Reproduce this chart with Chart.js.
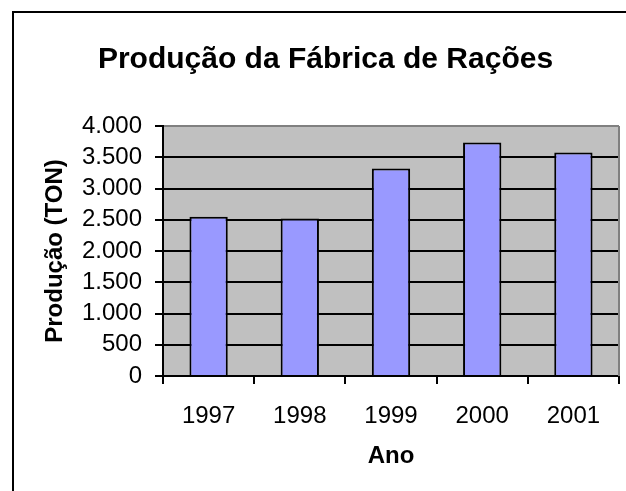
<!DOCTYPE html>
<html>
<head>
<meta charset="utf-8">
<script src="https://cdn.jsdelivr.net/npm/chart.js@4.4.1/dist/chart.umd.min.js"></script>
<style>
  body { margin: 0; background: #fff; overflow: hidden; }
  canvas { display: block; }
</style>
</head>
<body>
<canvas id="barChart" width="626" height="491"></canvas>
<script>
var anos = ["1997", "1998", "1999", "2000", "2001"];
var producao = [2550, 2520, 3320, 3735, 3575];
var yTicks = [0, 500, 1000, 1500, 2000, 2500, 3000, 3500, 4000];

var fontFamily = '"Liberation Sans", Arial, sans-serif';

function milhar(v) {
  return String(v).replace(/\B(?=(\d{3})+(?!\d))/g, ".");
}

// fundo cinza da área do gráfico + moldura externa
var excelLook = {
  id: 'excelLook',
  beforeDraw: function(chart) {
    var c = chart.ctx, a = chart.chartArea;
    c.save();
    c.fillStyle = '#C0C0C0';
    c.fillRect(a.left, a.top, a.right - a.left, a.bottom - a.top);
    c.restore();
  },
  afterDraw: function(chart) {
    var c = chart.ctx, a = chart.chartArea;
    c.save();
    c.strokeStyle = '#808080';
    c.lineWidth = 2;
    c.beginPath();
    c.moveTo(a.right, a.top);
    c.lineTo(a.right, a.bottom);
    c.stroke();
    c.strokeStyle = '#000';
    c.lineWidth = 2;
    c.strokeRect(13, 12, 700, 600);
    c.restore();
  }
};

var barChart = document.getElementById("barChart");
var myBarChart = new Chart(barChart, {
  type: 'bar',
  data: {
    labels: anos,
    datasets: [{
      data: producao,
      backgroundColor: "#9999FF",
      borderColor: "#000000",
      borderWidth: 2,
      borderSkipped: 'start',
      barPercentage: 0.42,
      categoryPercentage: 1.0
    }]
  },
  options: {
    responsive: false,
    animation: false,
    layout: { padding: { left: 32, right: 7, top: 0, bottom: 0 } },
    plugins: {
      legend: { display: false },
      tooltip: { enabled: false },
      title: {
        display: true,
        text: "Produção da Fábrica de Rações",
        color: '#000',
        font: { family: fontFamily, size: 30, weight: 'bold' },
        padding: { top: 42, bottom: 48 }
      }
    },
    scales: {
      x: {
        border: { color: '#000', width: 2 },
        grid: {
          offset: true,
          drawOnChartArea: false,
          drawTicks: true,
          tickLength: 8,
          color: '#000',
          lineWidth: 2
        },
        ticks: {
          color: '#000',
          padding: 18,
          maxRotation: 0,
          autoSkip: false,
          font: { family: fontFamily, size: 24 }
        },
        title: {
          display: true,
          text: "Ano",
          color: '#000',
          font: { family: fontFamily, size: 24, weight: 'bold' },
          padding: { top: 0, bottom: 20 }
        },
        afterFit: function(scale) { scale.height = 115; }
      },
      y: {
        min: 0,
        max: 4000,
        border: { color: '#000', width: 2 },
        grid: {
          color: function(ctx) { return ctx.tick && ctx.tick.value === 4000 ? '#808080' : '#000'; },
          lineWidth: 2,
          tickLength: 8,
          tickColor: '#000'
        },
        afterBuildTicks: function(scale) {
          scale.ticks = yTicks.map(function(v) { return { value: v }; });
        },
        ticks: {
          color: '#000',
          padding: 13,
          autoSkip: false,
          font: { family: fontFamily, size: 24 },
          callback: function(v) { return milhar(v); }
        },
        title: {
          display: true,
          text: "Produção (TON)",
          color: '#000',
          font: { family: fontFamily, size: 24, weight: 'bold' },
          padding: { top: 9, bottom: 0 }
        },
        afterFit: function(scale) { scale.width = 131; }
      }
    }
  },
  plugins: [excelLook]
});
</script>
</body>
</html>
